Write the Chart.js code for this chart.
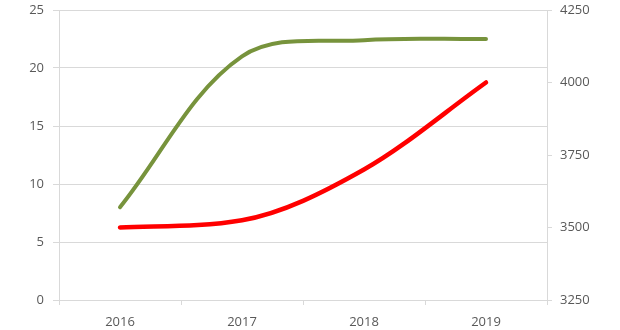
<!DOCTYPE html>
<html>
<head>
<meta charset="utf-8">
<script src="https://cdn.jsdelivr.net/npm/chart.js@4/dist/chart.umd.min.js"></script>
<style>
  html, body { margin: 0; padding: 0; background: #ffffff; }
  #wrap { width: 620px; height: 330px; }
</style>
</head>
<body>
<div id="wrap"><canvas id="plot" width="620" height="330"></canvas></div>
<script>
'use strict';

// Categories on the x axis
const years = ['2016', '2017', '2018', '2019'];

// Green series, read against the left axis
const greenValues = [8, 21, 22.4, 22.5];

// Red series, read against the right axis
const redValues = [3500, 3525, 3700, 4000];

// Axis ranges
const leftMin = 0, leftMax = 25, leftStep = 5;
const rightMin = 3250, rightMax = 4250, rightStep = 250;

const GRID = '#d9d9d9';
const TEXT = '#595959';
const FONT = { family: '"Open Sans", "Liberation Sans", sans-serif', size: 13 };

// vertical axes: fixed width, no extra label padding at the ends
function fitVertical(width) {
    return function (scale) {
        scale.width = width;
        scale.paddingTop = 0;
        scale.paddingBottom = 0;
    };
}

const data = {
    labels: years,
    datasets: [
        {
            label: 'green',
            data: greenValues,
            yAxisID: 'y',
            borderColor: '#77933c',
            borderWidth: 4,
            borderCapStyle: 'round',
            pointRadius: 0,
            tension: 0.35,
            fill: false
        },
        {
            label: 'red',
            data: redValues,
            yAxisID: 'y2',
            borderColor: '#ff0000',
            borderWidth: 4.5,
            borderCapStyle: 'round',
            pointRadius: 0,
            cubicInterpolationMode: 'monotone',
            fill: false
        }
    ]
};

const config = {
    type: 'line',
    data: data,
    options: {
        responsive: false,
        animation: false,
        layout: {
            padding: { top: 10, left: 0, right: 0, bottom: 0 }
        },
        plugins: {
            legend: { display: false },
            title: { display: false },
            tooltip: { enabled: false }
        },
        scales: {
            x: {
                offset: true,
                grid: {
                    offset: true,
                    drawOnChartArea: false,
                    drawTicks: true,
                    tickLength: 5,
                    color: GRID
                },
                border: { color: GRID },
                ticks: { color: TEXT, font: FONT, padding: 9, maxRotation: 0 },
                afterFit: function (scale) { scale.height = 30; }
            },
            y: {
                position: 'left',
                min: leftMin,
                max: leftMax,
                grid: { color: GRID, tickLength: 6, lineWidth: 1 },
                border: { color: GRID },
                ticks: { stepSize: leftStep, color: TEXT, font: FONT, padding: 9 },
                afterFit: fitVertical(59)
            },
            y2: {
                position: 'right',
                min: rightMin,
                max: rightMax,
                grid: { drawOnChartArea: false, color: GRID, tickLength: 5 },
                border: { color: GRID },
                ticks: {
                    stepSize: rightStep, color: TEXT, font: FONT, padding: 8,
                    callback: function (value) { return String(value); }
                },
                afterFit: fitVertical(73)
            }
        }
    }
};

// drawing the plot
const myChart = new Chart(document.getElementById('plot'), config);
</script>
</body>
</html>
